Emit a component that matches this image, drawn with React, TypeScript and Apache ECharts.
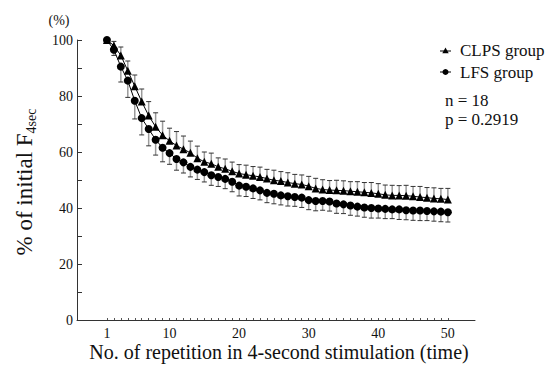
import React, { useEffect, useRef } from "react";
import * as echarts from "echarts";

const reps = [1,2,3,4,5,6,7,8,9,10,11,12,13,14,15,16,17,18,19,20,21,22,23,24,25,26,27,28,29,30,31,32,33,34,35,36,37,38,39,40,41,42,43,44,45,46,47,48,49,50];
const xTickLabels = [1, 10, 20, 30, 40, 50];
const yTickLabels = [0, 20, 40, 60, 80, 100];
const yTicks = [0, 10, 20, 30, 40, 50, 60, 70, 80, 90, 100];
const seriesNames = ["CLPS group", "LFS group"];

const clps = [100,98,94.5,89,83.5,78,73,69,66,64,62.3,61,59.7,57.8,56.5,55.8,54.7,54,53.1,52.3,51.9,51.5,51.1,50.5,49.9,49.6,49.1,48.7,48.4,47.8,47.0,46.6,46.4,46.3,46.2,46.0,45.8,45.6,45.4,45.1,44.7,44.5,44.5,44.4,44.2,43.9,43.7,43.4,43.3,43.0];
const clpsErr = [0,1.5,3,3.5,4,4.5,5,5,5,4.5,5,4.7,4.2,4.3,3.5,3.8,3.2,3.5,3.3,3.2,3.4,3.3,3.5,3.3,3.6,3.4,3.5,3.3,3.4,3.5,3.6,3.5,3.4,3.6,3.5,3.4,3.6,3.5,3.7,3.6,3.5,3.6,3.5,3.7,3.5,3.8,3.6,3.8,3.7,4.0];

const lfs = [100,96.5,90.5,85.5,78.3,72.1,68.2,64.4,61.5,59.6,57.5,56.3,54.7,53.7,52.8,51.7,51.1,50.4,49.4,48,47.6,47,46.3,45.4,45.1,44.5,44.2,43.9,43.7,42.8,42.5,42.5,42.3,41.6,41.3,40.9,40.5,40.2,40.0,39.8,39.7,39.5,39.5,39.2,39.1,39.1,38.9,38.8,38.7,38.5];
const lfsErr = [0,2,5.5,6,6.5,6,6,5.5,5,4,4,3.8,3.6,3.5,3.5,3.6,3.4,3.5,3.6,3.7,3.5,3.6,3.4,3.5,3.6,3.4,3.5,3.3,3.5,3.4,3.5,3.3,3.4,3.5,3.3,3.5,3.4,3.5,3.6,3.4,3.5,3.3,3.6,3.4,3.5,3.6,3.4,3.5,3.6,3.5];

const FONT = "Liberation Serif";

function errRender(dir: number) {
  return (params: any, api: any) => {
    const x = api.value(0);
    const m = api.value(1);
    const e = api.value(2);
    if (!e) return { type: "group", children: [] };
    const p0 = api.coord([x, m]);
    const p1 = api.coord([x, m + dir * e]);
    return {
      type: "group",
      children: [
        { type: "line", shape: { x1: p0[0], y1: p0[1], x2: p1[0], y2: p1[1] }, style: { stroke: "#9a9a9a", lineWidth: 1.5 } },
        { type: "line", shape: { x1: p1[0] - 2.5, y1: p1[1], x2: p1[0] + 2.5, y2: p1[1] }, style: { stroke: "#333", lineWidth: 1 } },
      ],
    };
  };
}

function txt(x: number, y: number, text: string, size: number, align = "left") {
  return { type: "text", x, y, style: { text, fontSize: size, fontFamily: FONT, fill: "#111", textAlign: align, textVerticalAlign: "middle" } };
}

export default function App() {
  const ref = useRef<HTMLDivElement>(null);
  useEffect(() => {
    if (!ref.current) return;
    const chart = echarts.init(ref.current, null, { renderer: "svg" });
    const clpsData = reps.map((r, i) => [r, clps[i]]);
    const lfsData = reps.map((r, i) => [r, lfs[i]]);
    const clpsErrData = reps.map((r, i) => [r, clps[i], clpsErr[i]]);
    const lfsErrData = reps.map((r, i) => [r, lfs[i], lfsErr[i]]);
    chart.setOption({
      animation: false,
      backgroundColor: "#fff",
      textStyle: { fontFamily: FONT },
      grid: { left: 77, right: 80, top: 40, bottom: 56, containLabel: false },
      xAxis: {
        type: "value",
        min: -3.3,
        max: 53.9,
        splitLine: { show: false },
        axisLine: { show: true, onZero: false, lineStyle: { color: "#333", width: 1 } },
        axisTick: { show: true, inside: true, length: 2, customValues: reps, lineStyle: { color: "#555" } },
        axisLabel: { customValues: xTickLabels, fontSize: 14, color: "#111", fontFamily: FONT, margin: 6 },
      },
      yAxis: {
        type: "value",
        min: 0,
        max: 100,
        splitLine: { show: false },
        axisLine: { show: true, onZero: false, lineStyle: { color: "#333", width: 1 } },
        axisTick: { show: true, inside: true, length: 5, customValues: yTicks, lineStyle: { color: "#333" } },
        axisLabel: { customValues: yTickLabels, fontSize: 14, color: "#111", fontFamily: FONT, margin: 4 },
      },
      graphic: [
        txt(59, 20, "(%)", 14, "center"),
        {
          type: "text",
          x: 24,
          y: 182,
          rotation: Math.PI / 2,
          style: {
            text: "{a|% of initial F}{s|4sec}",
            textAlign: "center",
            textVerticalAlign: "middle",
            fill: "#111",
            rich: {
              a: { fontSize: 23, fontFamily: FONT, fill: "#111", lineHeight: 28, verticalAlign: "middle" },
              s: { fontSize: 14, fontFamily: FONT, fill: "#111", lineHeight: 14, verticalAlign: "bottom" },
            },
          },
        },
        txt(279, 352, "No. of repetition in 4-second stimulation (time)", 20, "center"),
        // legend
        { type: "line", shape: { x1: 440, y1: 51, x2: 451, y2: 51 }, style: { stroke: "#000", lineWidth: 1 } },
        { type: "polygon", shape: { points: [[445.5, 47.5], [442.3, 53.3], [448.7, 53.3]] }, style: { fill: "#000" } },
        txt(460, 50.7, seriesNames[0], 17),
        { type: "line", shape: { x1: 440, y1: 72, x2: 451, y2: 72 }, style: { stroke: "#000", lineWidth: 1 } },
        { type: "circle", shape: { cx: 445.5, cy: 72, r: 3 }, style: { fill: "#000" } },
        txt(460, 72.3, seriesNames[1], 17),
        txt(445, 100, "n = 18", 17),
        txt(445, 119.5, "p = 0.2919", 17),
      ],
      series: [
        { type: "custom", name: "clpsErr", renderItem: errRender(1), data: clpsErrData, z: 1, silent: true },
        { type: "custom", name: "lfsErr", renderItem: errRender(-1), data: lfsErrData, z: 1, silent: true },
        {
          type: "line",
          name: seriesNames[0],
          data: clpsData,
          symbol: "triangle",
          symbolSize: 8,
          itemStyle: { color: "#000" },
          lineStyle: { color: "#000", width: 1 },
          z: 3,
        },
        {
          type: "line",
          name: seriesNames[1],
          data: lfsData,
          symbol: "circle",
          symbolSize: 8,
          itemStyle: { color: "#000" },
          lineStyle: { color: "#000", width: 1 },
          z: 3,
        },
      ],
    });
    return () => chart.dispose();
  }, []);
  return <div ref={ref} style={{ width: 555, height: 376, position: "absolute", left: 0, top: 0 }} />;
}
